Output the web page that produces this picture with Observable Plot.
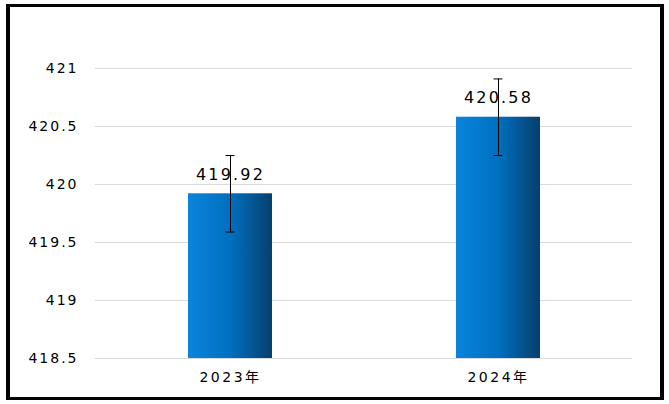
<!DOCTYPE html>
<html>
<head>
<meta charset="utf-8">
<script src="https://cdn.jsdelivr.net/npm/d3@7"></script>
<script src="https://cdn.jsdelivr.net/npm/@observablehq/plot@0.6"></script>
<style>
  html, body { margin: 0; padding: 0; background: #fff; }
  #wrap { position: relative; width: 669px; height: 404px; overflow: hidden; }
  #frame { position: absolute; left: 6px; top: 4px; width: 658px; height: 396px; box-sizing: border-box;
           border-style: solid; border-color: #000; border-width: 3px 4px 3px 4px; pointer-events: none; }
  svg text { font-family: "DejaVu Sans", "Noto Sans CJK SC", sans-serif; }
</style>
</head>
<body>
<div id="wrap"><div id="frame"></div></div>
<script>
const years = ["2023年", "2024年"];
const values = [419.92, 420.58];
const errors = [0.33, 0.33];
const yTicks = [418.5, 419, 419.5, 420, 420.5, 421];
const yDomain = [418.5, 421.5];

const data = years.map((year, i) => ({year, value: values[i], err: errors[i]}));

const chart = Plot.plot({
  width: 669,
  height: 404,
  marginLeft: 95,
  marginRight: 37,
  marginTop: 10,
  marginBottom: 46,
  style: {fontFamily: "'DejaVu Sans', 'Noto Sans CJK SC', sans-serif", background: "transparent"},
  x: {domain: years, paddingInner: 0.687, paddingOuter: 0.342, align: 0.5},
  y: {domain: yDomain},
  marks: [
    Plot.gridY(yTicks, {stroke: "#d9d9d9", strokeOpacity: 1, strokeWidth: 1}),
    Plot.barY(data, {x: "year", y1: () => yDomain[0], y2: "value", fill: "url(#barGrad)"}),
    Plot.ruleX(data, {x: "year", y1: d => d.value - d.err, y2: d => d.value + d.err, stroke: "#000", strokeWidth: 1}),
    Plot.tickY(data, {x: "year", y: d => d.value + d.err, stroke: "#000", insetLeft: 37.5, insetRight: 37.5}),
    Plot.tickY(data, {x: "year", y: d => d.value - d.err, stroke: "#000", insetLeft: 37.5, insetRight: 37.5}),
    Plot.text(data, {x: "year", y: "value", text: d => d.value.toFixed(2), dy: -19, lineAnchor: "middle",
      fontSize: 16, fill: "#000"}),
    Plot.axisY(yTicks, {tickSize: 0, tickPadding: 17, fontSize: 14, tickFormat: d => String(d), label: null, color: "#000"}),
    Plot.axisX({tickSize: 0, tickPadding: 14, fontSize: 14, label: null, color: "#000"})
  ]
});

d3.select(chart).selectAll("g[aria-label='y-axis tick label']").style("letter-spacing", "2px");
d3.select(chart).selectAll("g[aria-label='x-axis tick label']").style("letter-spacing", "2.5px");
d3.select(chart).selectAll("g[aria-label='text']").style("letter-spacing", "2.2px");

const defs = d3.select(chart).insert("defs", ":first-child");
const grad = defs.append("linearGradient").attr("id", "barGrad").attr("x1", 0).attr("x2", 1).attr("y1", 0).attr("y2", 0);
grad.append("stop").attr("offset", "0%").attr("stop-color", "#0a84dc");
grad.append("stop").attr("offset", "50%").attr("stop-color", "#0070c0");
grad.append("stop").attr("offset", "100%").attr("stop-color", "#073f6d");

document.getElementById("wrap").insertBefore(chart, document.getElementById("frame"));
</script>
</body>
</html>
